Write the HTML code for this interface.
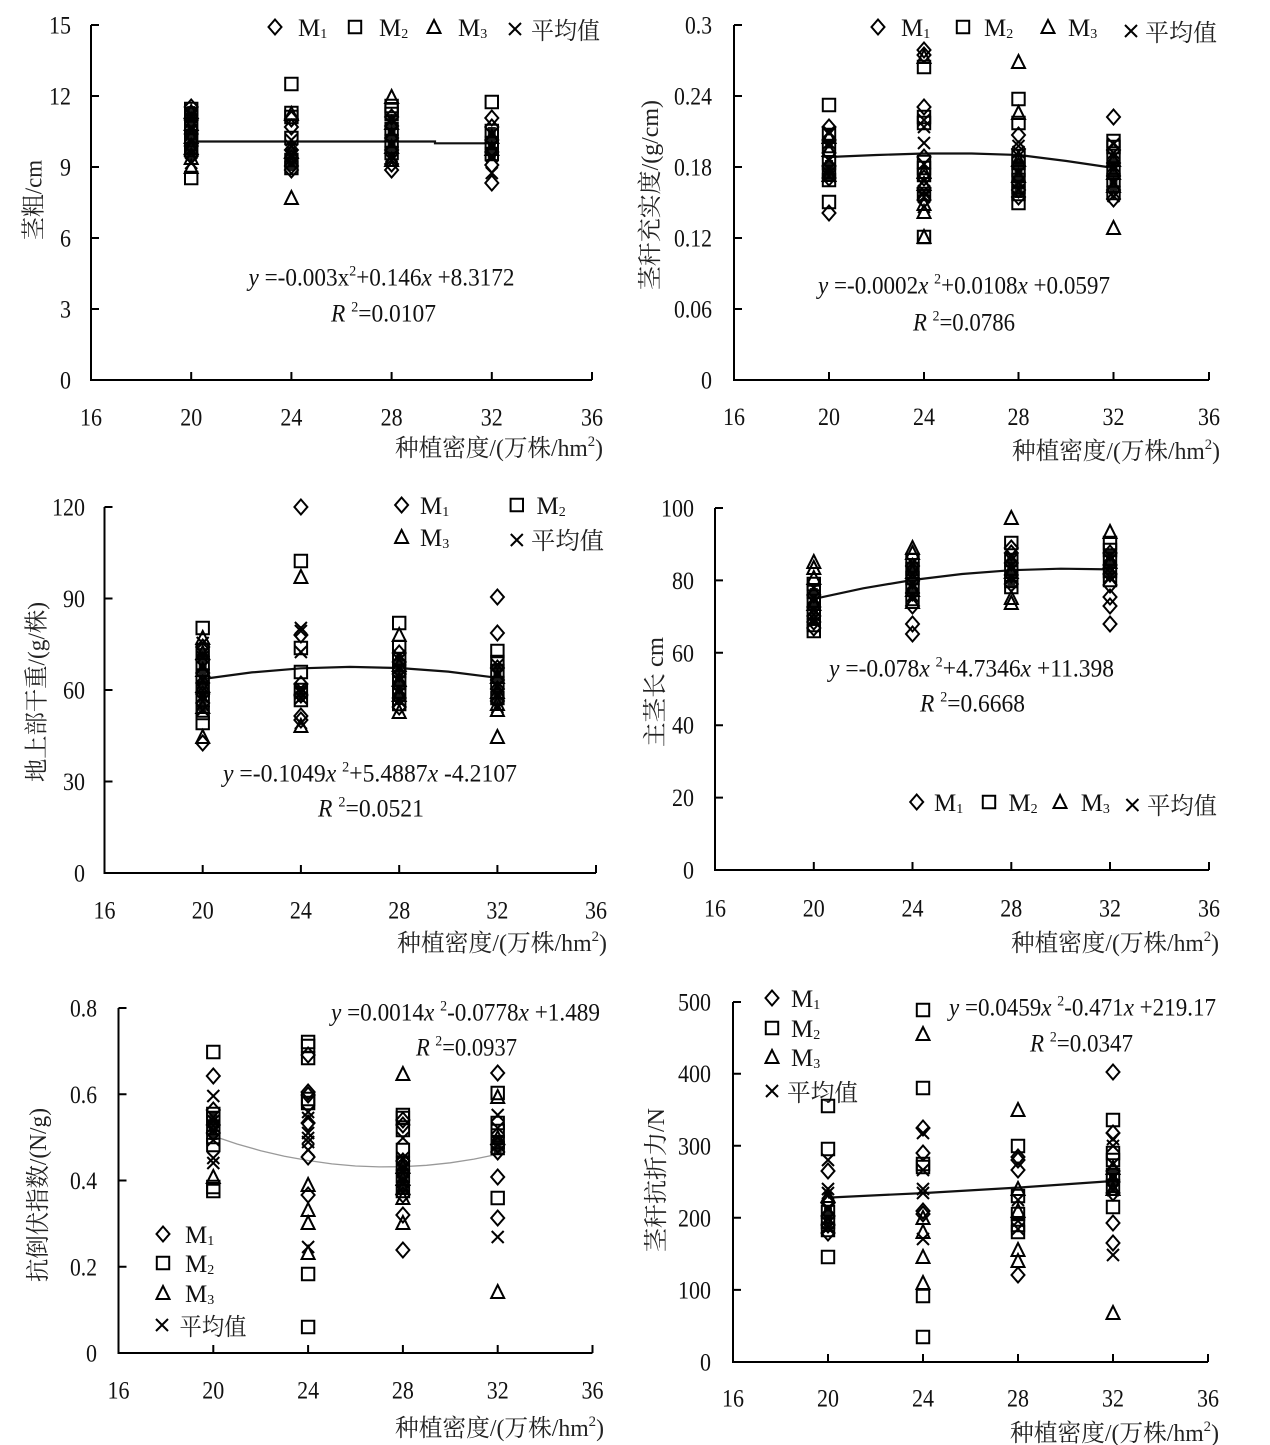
<!DOCTYPE html>
<html><head><meta charset="utf-8"><style>
html,body{margin:0;padding:0;background:#fff}
svg{display:block}
.n{font-family:"Liberation Serif","Noto Serif CJK SC",serif;font-size:25px;fill:#111}
.c{font-family:"Liberation Serif","Noto Serif CJK SC",serif;font-size:24px;fill:#222}
.ax{stroke:#000;stroke-width:2;fill:none}
.tr{stroke:#111;stroke-width:2.2;fill:none}
.b{fill:#1a1a1a}
</style></head><body>
<svg width="1270" height="1445" viewBox="0 0 1270 1445" xmlns="http://www.w3.org/2000/svg">
<defs>
<path id="d" d="M0,-7.5L6.5,0L0,7.5L-6.5,0Z" fill="none" stroke="#000" stroke-width="2"/>
<path id="s" d="M-6.2,-6.2H6.2V6.2H-6.2Z" fill="none" stroke="#000" stroke-width="2"/>
<path id="t" d="M0,-7L6.5,6H-6.5Z" fill="none" stroke="#000" stroke-width="2"/>
<path id="x" d="M-6,-6L6,6M6,-6L-6,6" fill="none" stroke="#000" stroke-width="2"/>
</defs>

<!-- ================= PANEL 1 ================= -->
<path class="ax" d="M91,25V380H592M91,25H99M91,96H99M91,167H99M91,238H99M91,309H99M191.2,380V372M291.4,380V372M391.6,380V372M491.8,380V372M592,380V372"/>
<g class="n" text-anchor="end" lengthAdjust="spacingAndGlyphs">
<text x="71" y="33.5" textLength="22" lengthAdjust="spacingAndGlyphs">15</text><text x="71" y="104.5" textLength="22" lengthAdjust="spacingAndGlyphs">12</text><text x="71" y="175.5" textLength="11" lengthAdjust="spacingAndGlyphs">9</text><text x="71" y="246.5" textLength="11" lengthAdjust="spacingAndGlyphs">6</text><text x="71" y="317.5" textLength="11" lengthAdjust="spacingAndGlyphs">3</text><text x="71" y="388.5" textLength="11" lengthAdjust="spacingAndGlyphs">0</text>
</g>
<g class="n" text-anchor="middle">
<text x="91" y="425.5" textLength="22" lengthAdjust="spacingAndGlyphs">16</text><text x="191.2" y="425.5" textLength="22" lengthAdjust="spacingAndGlyphs">20</text><text x="291.4" y="425.5" textLength="22" lengthAdjust="spacingAndGlyphs">24</text><text x="391.6" y="425.5" textLength="22" lengthAdjust="spacingAndGlyphs">28</text><text x="491.8" y="425.5" textLength="22" lengthAdjust="spacingAndGlyphs">32</text><text x="592" y="425.5" textLength="22" lengthAdjust="spacingAndGlyphs">36</text>
</g>
<text class="c" x="395" y="456" textLength="208" lengthAdjust="spacingAndGlyphs">种植密度/(万株/hm<tspan font-size="15" dy="-10">2</tspan><tspan dy="10">)</tspan></text>
<text class="c" transform="translate(33.5,200) rotate(-90)" x="0" y="8" text-anchor="middle" textLength="80" lengthAdjust="spacingAndGlyphs">茎粗/cm</text>
<text class="n" x="248.5" y="285.5" textLength="266" lengthAdjust="spacingAndGlyphs"><tspan font-style="italic">y</tspan> =-0.003x<tspan font-size="15" dy="-10">2</tspan><tspan dy="10">+0.146</tspan><tspan font-style="italic">x</tspan> +8.3172</text>
<text class="n" x="331" y="321.5" textLength="105" lengthAdjust="spacingAndGlyphs"><tspan font-style="italic">R</tspan> <tspan font-size="15" dy="-10">2</tspan><tspan dy="10">=0.0107</tspan></text>
<use href="#d" x="275" y="27"/><text class="n" x="298" y="36">M<tspan font-size="14" dy="2">1</tspan></text>
<use href="#s" x="355" y="27"/><text class="n" x="379" y="36">M<tspan font-size="14" dy="2">2</tspan></text>
<use href="#t" x="434" y="27"/><text class="n" x="458" y="36">M<tspan font-size="14" dy="2">3</tspan></text>
<use href="#x" x="515" y="29"/><text class="c" x="531" y="39" textLength="69" lengthAdjust="spacingAndGlyphs">平均值</text>
<path class="tr" d="M191.2,141.5H435V143.3H491.8"/>
<rect class="b" x="187.2" y="106" width="8" height="54"/>
<rect class="b" x="287.4" y="147" width="8" height="24"/>
<rect class="b" x="387.6" y="114" width="8" height="44"/>
<rect class="b" x="487.8" y="127" width="8" height="31"/>
<g transform="translate(191.2,0)">
<use href="#s" y="109"/><use href="#d" y="107"/><use href="#s" y="114"/><use href="#t" y="112"/><use href="#x" y="116"/><use href="#d" y="120"/><use href="#t" y="124"/><use href="#s" y="128"/><use href="#x" y="130"/><use href="#d" y="134"/><use href="#t" y="137"/><use href="#s" y="140"/><use href="#x" y="142"/><use href="#d" y="146"/><use href="#t" y="148"/><use href="#s" y="150"/><use href="#x" y="153"/><use href="#d" y="156"/><use href="#t" y="158"/><use href="#x" y="163"/><use href="#t" y="167"/><use href="#s" y="178"/>
</g>
<g transform="translate(291.4,0)">
<use href="#s" y="84"/><use href="#s" y="113"/><use href="#t" y="114"/><use href="#s" y="117"/><use href="#d" y="119"/><use href="#d" y="127"/><use href="#s" y="138"/><use href="#x" y="140"/><use href="#x" y="146"/><use href="#d" y="150"/><use href="#t" y="152"/><use href="#x" y="155"/><use href="#d" y="158"/><use href="#s" y="160"/><use href="#x" y="163"/><use href="#d" y="166"/><use href="#s" y="168"/><use href="#d" y="170"/><use href="#t" y="198"/>
</g>
<g transform="translate(391.6,0)">
<use href="#t" y="97"/><use href="#s" y="106"/><use href="#s" y="110"/><use href="#s" y="114"/><use href="#d" y="117"/><use href="#x" y="120"/><use href="#t" y="123"/><use href="#d" y="126"/><use href="#s" y="129"/><use href="#x" y="132"/><use href="#t" y="135"/><use href="#d" y="138"/><use href="#s" y="141"/><use href="#x" y="144"/><use href="#t" y="147"/><use href="#d" y="150"/><use href="#s" y="153"/><use href="#x" y="156"/><use href="#t" y="160"/><use href="#d" y="164"/><use href="#x" y="160"/><use href="#d" y="170"/>
</g>
<g transform="translate(491.8,0)">
<use href="#s" y="102"/><use href="#d" y="118"/><use href="#d" y="127"/><use href="#s" y="131"/><use href="#x" y="134"/><use href="#t" y="137"/><use href="#d" y="140"/><use href="#s" y="143"/><use href="#x" y="146"/><use href="#t" y="149"/><use href="#d" y="152"/><use href="#s" y="154"/><use href="#x" y="156"/><use href="#d" y="165"/><use href="#x" y="173"/><use href="#d" y="183"/>
</g>

<!-- ================= PANEL 2 ================= -->
<path class="ax" d="M734,25V380H1209M734,25H742M734,96H742M734,167H742M734,238H742M734,309H742M829,380V372M924,380V372M1018.5,380V372M1113.5,380V372M1209,380V372"/>
<g class="n" text-anchor="end">
<text x="712" y="33.5" textLength="27" lengthAdjust="spacingAndGlyphs">0.3</text><text x="712" y="104.5" textLength="38" lengthAdjust="spacingAndGlyphs">0.24</text><text x="712" y="175.5" textLength="38" lengthAdjust="spacingAndGlyphs">0.18</text><text x="712" y="246.5" textLength="38" lengthAdjust="spacingAndGlyphs">0.12</text><text x="712" y="317.5" textLength="38" lengthAdjust="spacingAndGlyphs">0.06</text><text x="712" y="388.5" textLength="11" lengthAdjust="spacingAndGlyphs">0</text>
</g>
<g class="n" text-anchor="middle">
<text x="734" y="425" textLength="22" lengthAdjust="spacingAndGlyphs">16</text><text x="829" y="425" textLength="22" lengthAdjust="spacingAndGlyphs">20</text><text x="924" y="425" textLength="22" lengthAdjust="spacingAndGlyphs">24</text><text x="1018.5" y="425" textLength="22" lengthAdjust="spacingAndGlyphs">28</text><text x="1113.5" y="425" textLength="22" lengthAdjust="spacingAndGlyphs">32</text><text x="1209" y="425" textLength="22" lengthAdjust="spacingAndGlyphs">36</text>
</g>
<text class="c" x="1012" y="459" textLength="208" lengthAdjust="spacingAndGlyphs">种植密度/(万株/hm<tspan font-size="15" dy="-10">2</tspan><tspan dy="10">)</tspan></text>
<text class="c" transform="translate(650,195) rotate(-90)" x="0" y="8" text-anchor="middle" textLength="190" lengthAdjust="spacingAndGlyphs">茎秆充实度/(g/cm)</text>
<text class="n" x="818" y="293.5" textLength="292" lengthAdjust="spacingAndGlyphs"><tspan font-style="italic">y</tspan> =-0.0002<tspan font-style="italic">x</tspan> <tspan font-size="15" dy="-10">2</tspan><tspan dy="10">+0.0108</tspan><tspan font-style="italic">x</tspan> +0.0597</text>
<text class="n" x="913" y="330.5" textLength="102" lengthAdjust="spacingAndGlyphs"><tspan font-style="italic">R</tspan> <tspan font-size="15" dy="-10">2</tspan><tspan dy="10">=0.0786</tspan></text>
<use href="#d" x="878" y="27"/><text class="n" x="901" y="36">M<tspan font-size="14" dy="2">1</tspan></text>
<use href="#s" x="963" y="27"/><text class="n" x="984" y="36">M<tspan font-size="14" dy="2">2</tspan></text>
<use href="#t" x="1048" y="27"/><text class="n" x="1068" y="36">M<tspan font-size="14" dy="2">3</tspan></text>
<use href="#x" x="1131" y="31"/><text class="c" x="1145" y="41" textLength="72" lengthAdjust="spacingAndGlyphs">平均值</text>
<polyline class="tr" points="829,157 876.5,155 924,153.5 971.5,153.5 1019,155 1066.5,161 1114,168"/>
<rect class="b" x="825" y="160" width="8" height="20"/>
<rect class="b" x="1014.5" y="158" width="8" height="40"/>
<rect class="b" x="1109.5" y="158" width="8" height="36"/>
<g transform="translate(829,0)">
<use href="#s" y="105"/><use href="#d" y="127"/><use href="#x" y="132"/><use href="#s" y="135"/><use href="#t" y="137"/><use href="#d" y="140"/><use href="#x" y="143"/><use href="#s" y="146"/><use href="#t" y="150"/><use href="#d" y="153"/><use href="#x" y="160"/><use href="#s" y="163"/><use href="#d" y="166"/><use href="#x" y="169"/><use href="#s" y="172"/><use href="#t" y="175"/><use href="#d" y="178"/><use href="#x" y="176"/><use href="#s" y="180"/><use href="#s" y="202"/><use href="#d" y="213"/>
</g>
<g transform="translate(924,0)">
<use href="#d" y="50"/><use href="#d" y="55"/><use href="#t" y="57"/><use href="#s" y="67"/><use href="#d" y="107"/><use href="#s" y="117"/><use href="#x" y="120"/><use href="#s" y="123"/><use href="#x" y="127"/><use href="#x" y="143"/><use href="#d" y="157"/><use href="#s" y="162"/><use href="#x" y="164"/><use href="#s" y="168"/><use href="#t" y="172"/><use href="#s" y="175"/><use href="#d" y="178"/><use href="#x" y="181"/><use href="#t" y="184"/><use href="#d" y="188"/><use href="#x" y="191"/><use href="#s" y="194"/><use href="#x" y="197"/><use href="#d" y="200"/><use href="#t" y="204"/><use href="#x" y="207"/><use href="#t" y="212"/><use href="#s" y="237"/><use href="#t" y="237"/>
</g>
<g transform="translate(1018.5,0)">
<use href="#t" y="62"/><use href="#s" y="99"/><use href="#t" y="113"/><use href="#s" y="123"/><use href="#d" y="135"/><use href="#x" y="146"/><use href="#d" y="149"/><use href="#x" y="152"/><use href="#s" y="156"/><use href="#t" y="160"/><use href="#s" y="163"/><use href="#d" y="166"/><use href="#s" y="170"/><use href="#x" y="173"/><use href="#t" y="176"/><use href="#s" y="180"/><use href="#x" y="183"/><use href="#s" y="187"/><use href="#d" y="190"/><use href="#x" y="190"/><use href="#s" y="194"/><use href="#d" y="197"/><use href="#s" y="203"/>
</g>
<g transform="translate(1113.5,0)">
<use href="#d" y="117"/><use href="#s" y="141"/><use href="#x" y="144"/><use href="#s" y="147"/><use href="#d" y="150"/><use href="#x" y="153"/><use href="#s" y="156"/><use href="#t" y="160"/><use href="#d" y="163"/><use href="#x" y="166"/><use href="#s" y="170"/><use href="#t" y="173"/><use href="#d" y="176"/><use href="#s" y="180"/><use href="#x" y="183"/><use href="#t" y="186"/><use href="#d" y="190"/><use href="#s" y="193"/><use href="#x" y="196"/><use href="#d" y="199"/><use href="#t" y="228"/>
</g>

<!-- ================= PANEL 3 ================= -->
<path class="ax" d="M104.5,507V873H596M104.5,507H112.5M104.5,598.5H112.5M104.5,690H112.5M104.5,781.5H112.5M202.7,873V865M300.9,873V865M399.2,873V865M497.4,873V865M596,873V865"/>
<g class="n" text-anchor="end">
<text x="85" y="515.5" textLength="33" lengthAdjust="spacingAndGlyphs">120</text><text x="85" y="607" textLength="22" lengthAdjust="spacingAndGlyphs">90</text><text x="85" y="698.5" textLength="22" lengthAdjust="spacingAndGlyphs">60</text><text x="85" y="790" textLength="22" lengthAdjust="spacingAndGlyphs">30</text><text x="85" y="881.5" textLength="11" lengthAdjust="spacingAndGlyphs">0</text>
</g>
<g class="n" text-anchor="middle">
<text x="104.5" y="918.5" textLength="22" lengthAdjust="spacingAndGlyphs">16</text><text x="202.7" y="918.5" textLength="22" lengthAdjust="spacingAndGlyphs">20</text><text x="300.9" y="918.5" textLength="22" lengthAdjust="spacingAndGlyphs">24</text><text x="399.2" y="918.5" textLength="22" lengthAdjust="spacingAndGlyphs">28</text><text x="497.4" y="918.5" textLength="22" lengthAdjust="spacingAndGlyphs">32</text><text x="596" y="918.5" textLength="22" lengthAdjust="spacingAndGlyphs">36</text>
</g>
<text class="c" x="397" y="951" textLength="210" lengthAdjust="spacingAndGlyphs">种植密度/(万株/hm<tspan font-size="15" dy="-10">2</tspan><tspan dy="10">)</tspan></text>
<text class="c" transform="translate(36.5,692) rotate(-90)" x="0" y="8" text-anchor="middle" textLength="180" lengthAdjust="spacingAndGlyphs">地上部干重/(g/株)</text>
<text class="n" x="223" y="781.5" textLength="294" lengthAdjust="spacingAndGlyphs"><tspan font-style="italic">y</tspan> =-0.1049<tspan font-style="italic">x</tspan> <tspan font-size="15" dy="-10">2</tspan><tspan dy="10">+5.4887</tspan><tspan font-style="italic">x</tspan> -4.2107</text>
<text class="n" x="318" y="816.5" textLength="106" lengthAdjust="spacingAndGlyphs"><tspan font-style="italic">R</tspan> <tspan font-size="15" dy="-10">2</tspan><tspan dy="10">=0.0521</tspan></text>
<use href="#d" x="401.6" y="505"/><text class="n" x="420" y="514">M<tspan font-size="14" dy="2">1</tspan></text>
<use href="#s" x="516.8" y="505"/><text class="n" x="536.5" y="514">M<tspan font-size="14" dy="2">2</tspan></text>
<use href="#t" x="401.6" y="537"/><text class="n" x="420" y="546">M<tspan font-size="14" dy="2">3</tspan></text>
<use href="#x" x="516.8" y="540"/><text class="c" x="531" y="549" textLength="73" lengthAdjust="spacingAndGlyphs">平均值</text>
<polyline class="tr" points="202.7,679 251.8,672.4 300.9,668.3 350,666.9 399.1,668 448.2,671.6 497.3,677.8"/>
<rect class="b" x="198.7" y="648" width="8" height="66"/>
<rect class="b" x="395.2" y="655" width="8" height="50"/>
<rect class="b" x="493.4" y="663" width="8" height="42"/>
<rect class="b" x="296.9" y="686" width="8" height="16"/>
<g transform="translate(202.7,0)">
<use href="#s" y="628"/><use href="#t" y="638"/><use href="#x" y="643"/><use href="#d" y="647"/><use href="#s" y="650"/><use href="#t" y="653"/><use href="#x" y="657"/><use href="#d" y="660"/><use href="#s" y="663"/><use href="#x" y="667"/><use href="#t" y="670"/><use href="#d" y="673"/><use href="#s" y="676"/><use href="#x" y="680"/><use href="#d" y="683"/><use href="#t" y="686"/><use href="#s" y="690"/><use href="#d" y="694"/><use href="#x" y="697"/><use href="#s" y="700"/><use href="#d" y="703"/><use href="#t" y="707"/><use href="#x" y="710"/><use href="#s" y="713"/><use href="#s" y="723"/><use href="#t" y="737"/><use href="#d" y="743"/>
</g>
<g transform="translate(300.9,0)">
<use href="#d" y="507"/><use href="#s" y="561"/><use href="#t" y="577"/><use href="#x" y="628"/><use href="#x" y="631"/><use href="#d" y="635"/><use href="#s" y="648"/><use href="#x" y="652"/><use href="#s" y="672"/><use href="#d" y="684"/><use href="#x" y="688"/><use href="#s" y="690"/><use href="#x" y="693"/><use href="#d" y="695"/><use href="#x" y="698"/><use href="#s" y="700"/><use href="#d" y="716"/><use href="#d" y="720"/><use href="#x" y="723"/><use href="#t" y="726"/>
</g>
<g transform="translate(399.2,0)">
<use href="#s" y="623"/><use href="#t" y="635"/><use href="#s" y="647"/><use href="#d" y="653"/><use href="#x" y="656"/><use href="#s" y="659"/><use href="#d" y="662"/><use href="#t" y="665"/><use href="#x" y="668"/><use href="#s" y="671"/><use href="#d" y="674"/><use href="#x" y="677"/><use href="#t" y="680"/><use href="#s" y="683"/><use href="#d" y="686"/><use href="#x" y="689"/><use href="#s" y="692"/><use href="#t" y="695"/><use href="#d" y="698"/><use href="#x" y="701"/><use href="#s" y="704"/><use href="#d" y="707"/><use href="#t" y="712"/>
</g>
<g transform="translate(497.4,0)">
<use href="#d" y="597"/><use href="#d" y="633"/><use href="#s" y="651"/><use href="#s" y="662"/><use href="#x" y="665"/><use href="#d" y="668"/><use href="#s" y="671"/><use href="#x" y="674"/><use href="#t" y="677"/><use href="#d" y="680"/><use href="#s" y="683"/><use href="#x" y="686"/><use href="#d" y="689"/><use href="#t" y="692"/><use href="#x" y="695"/><use href="#s" y="698"/><use href="#d" y="701"/><use href="#t" y="704"/><use href="#x" y="707"/><use href="#t" y="710"/><use href="#t" y="737"/>
</g>

<!-- ================= PANEL 4 ================= -->
<path class="ax" d="M715,508V870H1209M715,508H723M715,580.4H723M715,652.8H723M715,725.2H723M715,797.6H723M813.8,870V862M912.5,870V862M1011.3,870V862M1110,870V862M1209,870V862"/>
<g class="n" text-anchor="end">
<text x="694" y="516.5" textLength="33" lengthAdjust="spacingAndGlyphs">100</text><text x="694" y="589" textLength="22" lengthAdjust="spacingAndGlyphs">80</text><text x="694" y="661.3" textLength="22" lengthAdjust="spacingAndGlyphs">60</text><text x="694" y="733.7" textLength="22" lengthAdjust="spacingAndGlyphs">40</text><text x="694" y="806" textLength="22" lengthAdjust="spacingAndGlyphs">20</text><text x="694" y="878.5" textLength="11" lengthAdjust="spacingAndGlyphs">0</text>
</g>
<g class="n" text-anchor="middle">
<text x="715" y="916.5" textLength="22" lengthAdjust="spacingAndGlyphs">16</text><text x="813.8" y="916.5" textLength="22" lengthAdjust="spacingAndGlyphs">20</text><text x="912.5" y="916.5" textLength="22" lengthAdjust="spacingAndGlyphs">24</text><text x="1011.3" y="916.5" textLength="22" lengthAdjust="spacingAndGlyphs">28</text><text x="1110" y="916.5" textLength="22" lengthAdjust="spacingAndGlyphs">32</text><text x="1209" y="916.5" textLength="22" lengthAdjust="spacingAndGlyphs">36</text>
</g>
<text class="c" x="1011" y="951" textLength="208" lengthAdjust="spacingAndGlyphs">种植密度/(万株/hm<tspan font-size="15" dy="-10">2</tspan><tspan dy="10">)</tspan></text>
<text class="c" transform="translate(655,692) rotate(-90)" x="0" y="8" text-anchor="middle" textLength="110" lengthAdjust="spacingAndGlyphs">主茎长 cm</text>
<text class="n" x="829" y="676.5" textLength="285" lengthAdjust="spacingAndGlyphs"><tspan font-style="italic">y</tspan> =-0.078<tspan font-style="italic">x</tspan> <tspan font-size="15" dy="-10">2</tspan><tspan dy="10">+4.7346</tspan><tspan font-style="italic">x</tspan> +11.398</text>
<text class="n" x="920" y="711.5" textLength="105" lengthAdjust="spacingAndGlyphs"><tspan font-style="italic">R</tspan> <tspan font-size="15" dy="-10">2</tspan><tspan dy="10">=0.6668</tspan></text>
<use href="#d" x="916.7" y="802"/><text class="n" x="934" y="811">M<tspan font-size="14" dy="2">1</tspan></text>
<use href="#s" x="989" y="802"/><text class="n" x="1008.4" y="811">M<tspan font-size="14" dy="2">2</tspan></text>
<use href="#t" x="1060" y="802"/><text class="n" x="1080.7" y="811">M<tspan font-size="14" dy="2">3</tspan></text>
<use href="#x" x="1132.4" y="805"/><text class="c" x="1147" y="814" textLength="70" lengthAdjust="spacingAndGlyphs">平均值</text>
<polyline class="tr" points="813.8,598.9 863.2,588.3 912.6,580 962,574 1011.4,570.2 1060.8,568.7 1110.2,569.4"/>
<rect class="b" x="809.8" y="588" width="8" height="38"/>
<rect class="b" x="908.5" y="560" width="8" height="40"/>
<rect class="b" x="1007.3" y="556" width="8" height="32"/>
<rect class="b" x="1106" y="550" width="8" height="30"/>
<g transform="translate(813.8,0)">
<use href="#t" y="562"/><use href="#t" y="568"/><use href="#t" y="578"/><use href="#s" y="584"/><use href="#x" y="588"/><use href="#s" y="592"/><use href="#d" y="595"/><use href="#x" y="598"/><use href="#s" y="601"/><use href="#t" y="604"/><use href="#d" y="607"/><use href="#x" y="610"/><use href="#s" y="613"/><use href="#d" y="616"/><use href="#x" y="619"/><use href="#d" y="622"/><use href="#s" y="625"/><use href="#d" y="628"/><use href="#s" y="631"/>
</g>
<g transform="translate(912.5,0)">
<use href="#t" y="548"/><use href="#t" y="553"/><use href="#s" y="560"/><use href="#x" y="563"/><use href="#d" y="566"/><use href="#s" y="569"/><use href="#t" y="572"/><use href="#x" y="575"/><use href="#s" y="578"/><use href="#d" y="581"/><use href="#x" y="584"/><use href="#s" y="587"/><use href="#t" y="590"/><use href="#d" y="593"/><use href="#x" y="596"/><use href="#s" y="599"/><use href="#t" y="602"/><use href="#d" y="606"/><use href="#d" y="624"/><use href="#d" y="634"/>
</g>
<g transform="translate(1011.3,0)">
<use href="#t" y="518"/><use href="#s" y="543"/><use href="#d" y="548"/><use href="#d" y="553"/><use href="#x" y="557"/><use href="#s" y="560"/><use href="#d" y="563"/><use href="#x" y="566"/><use href="#s" y="569"/><use href="#t" y="572"/><use href="#d" y="575"/><use href="#x" y="578"/><use href="#s" y="581"/><use href="#d" y="584"/><use href="#s" y="587"/><use href="#t" y="598"/><use href="#t" y="603"/>
</g>
<g transform="translate(1110,0)">
<use href="#t" y="532"/><use href="#s" y="543"/><use href="#s" y="550"/><use href="#d" y="553"/><use href="#x" y="556"/><use href="#s" y="559"/><use href="#t" y="562"/><use href="#d" y="565"/><use href="#x" y="568"/><use href="#s" y="571"/><use href="#d" y="574"/><use href="#x" y="577"/><use href="#s" y="580"/><use href="#d" y="585"/><use href="#d" y="597"/><use href="#d" y="606"/><use href="#d" y="624"/>
</g>

<!-- ================= PANEL 5 ================= -->
<path class="ax" d="M118.5,1008V1353H592.5M118.5,1008H126.5M118.5,1094.3H126.5M118.5,1180.5H126.5M118.5,1266.8H126.5M213.3,1353V1345M308.1,1353V1345M402.9,1353V1345M497.7,1353V1345M592.5,1353V1345"/>
<g class="n" text-anchor="end">
<text x="97" y="1016.5" textLength="27" lengthAdjust="spacingAndGlyphs">0.8</text><text x="97" y="1102.8" textLength="27" lengthAdjust="spacingAndGlyphs">0.6</text><text x="97" y="1189" textLength="27" lengthAdjust="spacingAndGlyphs">0.4</text><text x="97" y="1275.3" textLength="27" lengthAdjust="spacingAndGlyphs">0.2</text><text x="97" y="1361.5" textLength="11" lengthAdjust="spacingAndGlyphs">0</text>
</g>
<g class="n" text-anchor="middle">
<text x="118.5" y="1398.5" textLength="22" lengthAdjust="spacingAndGlyphs">16</text><text x="213.3" y="1398.5" textLength="22" lengthAdjust="spacingAndGlyphs">20</text><text x="308.1" y="1398.5" textLength="22" lengthAdjust="spacingAndGlyphs">24</text><text x="402.9" y="1398.5" textLength="22" lengthAdjust="spacingAndGlyphs">28</text><text x="497.7" y="1398.5" textLength="22" lengthAdjust="spacingAndGlyphs">32</text><text x="592.5" y="1398.5" textLength="22" lengthAdjust="spacingAndGlyphs">36</text>
</g>
<text class="c" x="395" y="1436" textLength="209" lengthAdjust="spacingAndGlyphs">种植密度/(万株/hm<tspan font-size="15" dy="-10">2</tspan><tspan dy="10">)</tspan></text>
<text class="c" transform="translate(38,1195) rotate(-90)" x="0" y="8" text-anchor="middle" textLength="174" lengthAdjust="spacingAndGlyphs">抗倒伏指数/(N/g)</text>
<text class="n" x="331" y="1020.5" textLength="269" lengthAdjust="spacingAndGlyphs"><tspan font-style="italic">y</tspan> =0.0014<tspan font-style="italic">x</tspan> <tspan font-size="15" dy="-10">2</tspan><tspan dy="10">-0.0778</tspan><tspan font-style="italic">x</tspan> +1.489</text>
<text class="n" x="416" y="1055.5" textLength="101" lengthAdjust="spacingAndGlyphs"><tspan font-style="italic">R</tspan> <tspan font-size="15" dy="-10">2</tspan><tspan dy="10">=0.0937</tspan></text>
<use href="#d" x="163" y="1234"/><text class="n" x="185" y="1243">M<tspan font-size="14" dy="2">1</tspan></text>
<use href="#s" x="163" y="1263"/><text class="n" x="185" y="1272">M<tspan font-size="14" dy="2">2</tspan></text>
<use href="#t" x="163" y="1293"/><text class="n" x="185" y="1302">M<tspan font-size="14" dy="2">3</tspan></text>
<use href="#x" x="162" y="1325"/><text class="c" x="179.5" y="1335" textLength="67" lengthAdjust="spacingAndGlyphs">平均值</text>
<polyline points="213.3,1136 237,1144 260.7,1150.7 284.4,1156.3 308.1,1160.5 331.8,1163.9 355.5,1166 379.2,1166.9 402.9,1166.7 426.6,1165.3 450.3,1162.8 474,1159.1 497.7,1154.2" fill="none" stroke="#999" stroke-width="1.3"/>
<rect class="b" x="209.3" y="1112" width="8" height="28"/>
<rect class="b" x="398.9" y="1160" width="8" height="34"/>
<rect class="b" x="493.7" y="1138" width="8" height="16"/>
<g transform="translate(213.3,0)">
<use href="#s" y="1052"/><use href="#d" y="1076"/><use href="#x" y="1096"/><use href="#d" y="1110"/><use href="#s" y="1114"/><use href="#s" y="1118"/><use href="#x" y="1121"/><use href="#d" y="1125"/><use href="#s" y="1128"/><use href="#x" y="1130"/><use href="#d" y="1133"/><use href="#s" y="1137"/><use href="#x" y="1140"/><use href="#s" y="1145"/><use href="#x" y="1158"/><use href="#x" y="1163"/><use href="#t" y="1177"/><use href="#s" y="1187"/><use href="#s" y="1191"/>
</g>
<g transform="translate(308.1,0)">
<use href="#s" y="1042"/><use href="#s" y="1046"/><use href="#d" y="1055"/><use href="#s" y="1058"/><use href="#d" y="1092"/><use href="#d" y="1095"/><use href="#s" y="1099"/><use href="#s" y="1103"/><use href="#x" y="1112"/><use href="#x" y="1118"/><use href="#d" y="1123"/><use href="#x" y="1133"/><use href="#x" y="1138"/><use href="#x" y="1142"/><use href="#x" y="1150"/><use href="#d" y="1157"/><use href="#t" y="1185"/><use href="#d" y="1195"/><use href="#t" y="1210"/><use href="#t" y="1223"/><use href="#x" y="1247"/><use href="#t" y="1253"/><use href="#s" y="1274"/><use href="#s" y="1327"/>
</g>
<g transform="translate(402.9,0)">
<use href="#t" y="1074"/><use href="#s" y="1115"/><use href="#s" y="1118"/><use href="#d" y="1120"/><use href="#d" y="1125"/><use href="#s" y="1130"/><use href="#x" y="1138"/><use href="#s" y="1150"/><use href="#x" y="1158"/><use href="#d" y="1161"/><use href="#s" y="1164"/><use href="#t" y="1167"/><use href="#x" y="1170"/><use href="#d" y="1173"/><use href="#s" y="1176"/><use href="#t" y="1179"/><use href="#x" y="1182"/><use href="#d" y="1185"/><use href="#t" y="1188"/><use href="#s" y="1191"/><use href="#d" y="1195"/><use href="#t" y="1198"/><use href="#d" y="1215"/><use href="#t" y="1223"/><use href="#d" y="1250"/>
</g>
<g transform="translate(497.7,0)">
<use href="#d" y="1073"/><use href="#s" y="1093"/><use href="#t" y="1097"/><use href="#x" y="1115"/><use href="#s" y="1123"/><use href="#x" y="1128"/><use href="#s" y="1131"/><use href="#t" y="1138"/><use href="#s" y="1142"/><use href="#d" y="1145"/><use href="#s" y="1148"/><use href="#d" y="1152"/><use href="#d" y="1177"/><use href="#s" y="1198"/><use href="#d" y="1218"/><use href="#x" y="1237"/><use href="#t" y="1292"/>
</g>

<!-- ================= PANEL 6 ================= -->
<path class="ax" d="M733,1002V1362H1208M733,1002H741M733,1073.7H741M733,1145.8H741M733,1217.8H741M733,1289.9H741M828,1362V1354M923,1362V1354M1018,1362V1354M1113,1362V1354M1208,1362V1354"/>
<g class="n" text-anchor="end">
<text x="711" y="1010.5" textLength="33" lengthAdjust="spacingAndGlyphs">500</text><text x="711" y="1082.2" textLength="33" lengthAdjust="spacingAndGlyphs">400</text><text x="711" y="1154.3" textLength="33" lengthAdjust="spacingAndGlyphs">300</text><text x="711" y="1226.3" textLength="33" lengthAdjust="spacingAndGlyphs">200</text><text x="711" y="1298.4" textLength="33" lengthAdjust="spacingAndGlyphs">100</text><text x="711" y="1370.5" textLength="11" lengthAdjust="spacingAndGlyphs">0</text>
</g>
<g class="n" text-anchor="middle">
<text x="733" y="1406.5" textLength="22" lengthAdjust="spacingAndGlyphs">16</text><text x="828" y="1406.5" textLength="22" lengthAdjust="spacingAndGlyphs">20</text><text x="923" y="1406.5" textLength="22" lengthAdjust="spacingAndGlyphs">24</text><text x="1018" y="1406.5" textLength="22" lengthAdjust="spacingAndGlyphs">28</text><text x="1113" y="1406.5" textLength="22" lengthAdjust="spacingAndGlyphs">32</text><text x="1208" y="1406.5" textLength="22" lengthAdjust="spacingAndGlyphs">36</text>
</g>
<text class="c" x="1010" y="1441" textLength="209" lengthAdjust="spacingAndGlyphs">种植密度/(万株/hm<tspan font-size="15" dy="-10">2</tspan><tspan dy="10">)</tspan></text>
<text class="c" transform="translate(656,1180) rotate(-90)" x="0" y="8" text-anchor="middle" textLength="144" lengthAdjust="spacingAndGlyphs">茎秆抗折力/N</text>
<text class="n" x="949" y="1015.5" textLength="267" lengthAdjust="spacingAndGlyphs"><tspan font-style="italic">y</tspan> =0.0459<tspan font-style="italic">x</tspan> <tspan font-size="15" dy="-10">2</tspan><tspan dy="10">-0.471</tspan><tspan font-style="italic">x</tspan> +219.17</text>
<text class="n" x="1030" y="1051.5" textLength="103" lengthAdjust="spacingAndGlyphs"><tspan font-style="italic">R</tspan> <tspan font-size="15" dy="-10">2</tspan><tspan dy="10">=0.0347</tspan></text>
<use href="#d" x="772" y="998"/><text class="n" x="791" y="1007">M<tspan font-size="14" dy="2">1</tspan></text>
<use href="#s" x="772" y="1028"/><text class="n" x="791" y="1037">M<tspan font-size="14" dy="2">2</tspan></text>
<use href="#t" x="772" y="1057"/><text class="n" x="791" y="1066">M<tspan font-size="14" dy="2">3</tspan></text>
<use href="#x" x="772" y="1091"/><text class="c" x="787" y="1101" textLength="71" lengthAdjust="spacingAndGlyphs">平均值</text>
<polyline class="tr" points="828,1197.6 923,1193.1 1018,1187.6 1113,1181"/>
<rect class="b" x="824" y="1208" width="8" height="24"/>
<rect class="b" x="1109" y="1168" width="8" height="24"/>
<g transform="translate(828,0)">
<use href="#s" y="1106"/><use href="#s" y="1149"/><use href="#x" y="1160"/><use href="#d" y="1171"/><use href="#x" y="1189"/><use href="#x" y="1193"/><use href="#t" y="1196"/><use href="#d" y="1203"/><use href="#x" y="1208"/><use href="#s" y="1212"/><use href="#d" y="1216"/><use href="#x" y="1219"/><use href="#s" y="1222"/><use href="#d" y="1225"/><use href="#x" y="1228"/><use href="#s" y="1230"/><use href="#d" y="1233"/><use href="#s" y="1257"/>
</g>
<g transform="translate(923,0)">
<use href="#s" y="1010"/><use href="#t" y="1034"/><use href="#s" y="1088"/><use href="#d" y="1128"/><use href="#x" y="1133"/><use href="#d" y="1153"/><use href="#s" y="1164"/><use href="#s" y="1167"/><use href="#x" y="1170"/><use href="#x" y="1189"/><use href="#x" y="1193"/><use href="#d" y="1211"/><use href="#d" y="1214"/><use href="#t" y="1218"/><use href="#t" y="1232"/><use href="#x" y="1239"/><use href="#t" y="1257"/><use href="#t" y="1283"/><use href="#s" y="1296"/><use href="#s" y="1337"/>
</g>
<g transform="translate(1018,0)">
<use href="#t" y="1110"/><use href="#s" y="1146"/><use href="#d" y="1157"/><use href="#d" y="1160"/><use href="#d" y="1170"/><use href="#t" y="1189"/><use href="#s" y="1196"/><use href="#x" y="1200"/><use href="#t" y="1211"/><use href="#s" y="1214"/><use href="#x" y="1221"/><use href="#s" y="1225"/><use href="#x" y="1229"/><use href="#s" y="1232"/><use href="#t" y="1250"/><use href="#t" y="1261"/><use href="#d" y="1275"/>
</g>
<g transform="translate(1113,0)">
<use href="#d" y="1072"/><use href="#s" y="1120"/><use href="#d" y="1133"/><use href="#x" y="1139"/><use href="#x" y="1146"/><use href="#s" y="1153"/><use href="#s" y="1160"/><use href="#x" y="1164"/><use href="#t" y="1168"/><use href="#d" y="1171"/><use href="#s" y="1175"/><use href="#x" y="1178"/><use href="#d" y="1182"/><use href="#s" y="1186"/><use href="#t" y="1189"/><use href="#x" y="1190"/><use href="#d" y="1193"/><use href="#s" y="1207"/><use href="#d" y="1223"/><use href="#d" y="1243"/><use href="#x" y="1255"/><use href="#t" y="1313"/>
</g>
</svg>
</body></html>
